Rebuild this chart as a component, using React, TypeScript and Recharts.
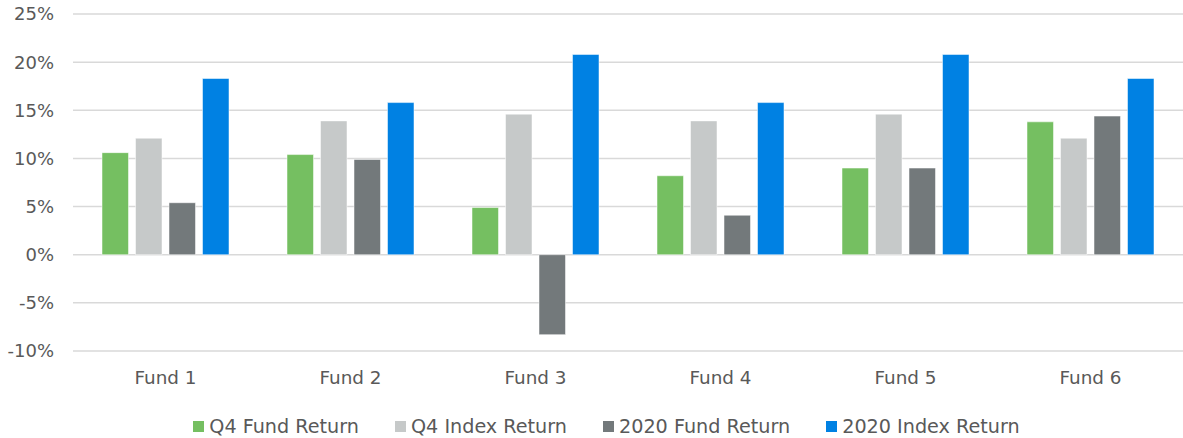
import React from 'react';
import { BarChart, Bar, XAxis, YAxis, CartesianGrid, Legend } from 'recharts';

const funds = ['Fund 1', 'Fund 2', 'Fund 3', 'Fund 4', 'Fund 5', 'Fund 6'];
const q4Fund = [10.6, 10.4, 4.9, 8.2, 9.0, 13.8];
const q4Index = [12.1, 13.9, 14.6, 13.9, 14.6, 12.1];
const fund2020 = [5.4, 9.9, -8.3, 4.1, 9.0, 14.4];
const index2020 = [18.3, 15.8, 20.8, 15.8, 20.8, 18.3];
const yTicks = [-10, -5, 0, 5, 10, 15, 20, 25];

const SERIES = [
  { key: 'q4Fund', name: 'Q4 Fund Return', color: '#75bf61' },
  { key: 'q4Index', name: 'Q4 Index Return', color: '#c6c9c9' },
  { key: 'fund2020', name: '2020 Fund Return', color: '#73797b' },
  { key: 'index2020', name: '2020 Index Return', color: '#0081e3' },
];

const data = funds.map((name, i) => ({
  name,
  q4Fund: q4Fund[i],
  q4Index: q4Index[i],
  fund2020: fund2020[i],
  index2020: index2020[i],
}));

const FONT = '"DejaVu Sans", sans-serif';
const TEXT = '#595959';

// legend drawn by hand so the squares and spacing match the original
const CustomLegend = () => (
  <div
    style={{
      height: 47,
      boxSizing: 'border-box',
      paddingTop: 24,
      paddingLeft: 30,
      display: 'flex',
      justifyContent: 'center',
      fontFamily: FONT,
      fontSize: 19.2,
      color: TEXT,
      lineHeight: '22px',
      whiteSpace: 'nowrap',
    }}
  >
    {SERIES.map((s, i) => (
      <div key={s.key} style={{ display: 'flex', alignItems: 'center', marginLeft: i === 0 ? 0 : 36 }}>
        <span style={{ width: 11, height: 11, background: s.color, marginRight: 5 }} />
        <span>{s.name}</span>
      </div>
    ))}
  </div>
);

export default function App() {
  return (
    <div style={{ position: 'absolute', left: 0, top: 0, width: 1183, height: 438, background: '#fff' }}>
      <BarChart
        width={1183}
        height={438}
        data={data}
        margin={{ top: 14, right: 0, left: 0, bottom: 0 }}
        barSize={26.5}
        barGap={7}
      >
        <CartesianGrid vertical={false} stroke="#d9d9d9" strokeWidth={1.5} />
        <XAxis
          dataKey="name"
          axisLine={false}
          tickLine={false}
          tickSize={0}
          tickMargin={20}
          height={40}
          tick={{ fill: TEXT, fontSize: 18.4, fontFamily: FONT }}
        />
        <YAxis
          domain={[-10, 25]}
          ticks={yTicks}
          tickFormatter={(v: number) => `${v}%`}
          axisLine={false}
          tickLine={false}
          tickSize={0}
          tickMargin={19}
          width={73}
          tick={{ fill: TEXT, fontSize: 18, fontFamily: FONT }}
        />
        <Legend verticalAlign="bottom" content={<CustomLegend />} wrapperStyle={{ left: 0, width: 1183 }} />
        {SERIES.map((s) => (
          <Bar
            key={s.key}
            dataKey={s.key}
            name={s.name}
            fill={s.color}
            stroke="rgba(255,255,255,0.5)"
            strokeWidth={1}
            isAnimationActive={false}
          />
        ))}
      </BarChart>
    </div>
  );
}
